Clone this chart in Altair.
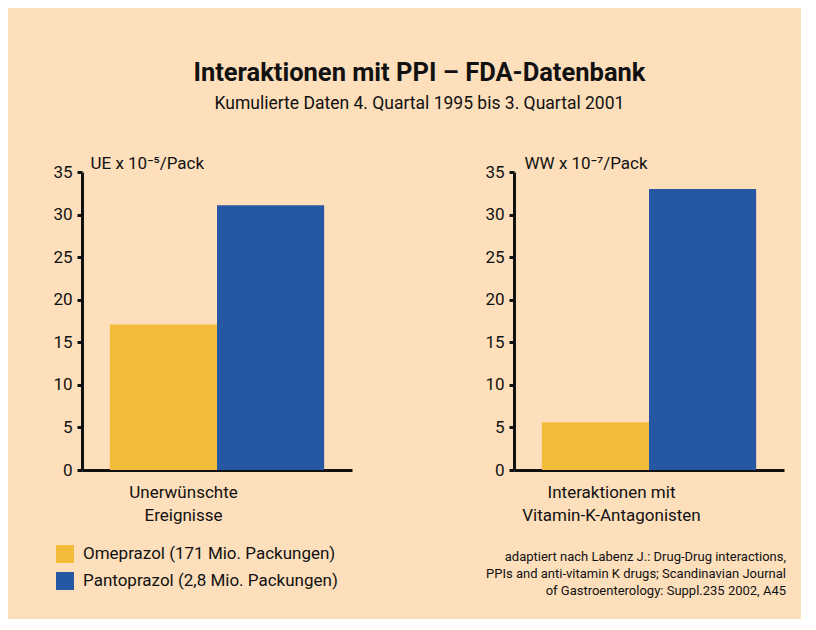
import altair as alt
import pandas as pd

# ---- data -----------------------------------------------------------------
CATEGORIES = ["Unerwünschte Ereignisse", "Interaktionen mit Vitamin-K-Antagonisten"]
SERIES = ["Omeprazol (171 Mio. Packungen)", "Pantoprazol (2,8 Mio. Packungen)"]
OMEPRAZOL = [17.1, 5.6]
PANTOPRAZOL = [31.1, 33.0]
Y_TITLES = ["UE x 10⁻⁵/Pack", "WW x 10⁻⁷/Pack"]
X_TITLES = [["Unerwünschte", "Ereignisse"], ["Interaktionen mit", "Vitamin-K-Antagonisten"]]
Y_TICKS = [0, 5, 10, 15, 20, 25, 30, 35]
TITLE = "Interaktionen mit PPI – FDA-Datenbank"
SUBTITLE = "Kumulierte Daten 4. Quartal 1995 bis 3. Quartal 2001"
FOOTNOTE = [
    "adaptiert nach Labenz J.: Drug-Drug interactions,",
    "PPIs and anti-vitamin K drugs; Scandinavian Journal",
    "of Gastroenterology: Suppl.235 2002, A45",
]

# ---- style -----------------------------------------------------------------
FONT = "Roboto, sans-serif"
PEACH = "#FEDFBB"
COLORS = ["#F2BB39", "#2657A3"]
INK = "#111111"
PANEL_W = 270
PANEL_H = 298


def panel(i):
    df = pd.DataFrame({
        "category": [CATEGORIES[i]] * 2,
        "series": SERIES,
        "value": [OMEPRAZOL[i], PANTOPRAZOL[i]],
    })
    bars = alt.Chart(df).mark_bar().encode(
        x=alt.X("series:N", sort=SERIES,
                scale=alt.Scale(paddingInner=0, paddingOuter=0.26),
                axis=alt.Axis(labels=False, ticks=False, domainWidth=3,
                              domainColor=INK, title=X_TITLES[i],
                              titleX=101 if i == 0 else 97, titleY=27,
                              titleAlign="center", titleBaseline="alphabetic",
                              titleFontSize=17, titleFontWeight="normal",
                              titleColor=INK, titleLineHeight=23)),
        y=alt.Y("value:Q", scale=alt.Scale(domain=[0, 35], nice=False),
                axis=alt.Axis(values=Y_TICKS, grid=False, domainWidth=3,
                              domainColor=INK, tickWidth=3, tickSize=5,
                              tickColor=INK, labelFontSize=17, labelPadding=5,
                              labelColor=INK, title=Y_TITLES[i], titleAngle=0,
                              titleAlign="left", titleBaseline="alphabetic",
                              titleX=8 if i == 0 else 10, titleY=-4,
                              titleFontSize=17, titleFontWeight="normal",
                              titleColor=INK)),
        color=alt.Color("series:N",
                        scale=alt.Scale(domain=SERIES, range=COLORS),
                        legend=alt.Legend(title=None, orient="none",
                                          legendX=-26, legendY=373,
                                          symbolType="square", symbolSize=324,
                                          symbolStrokeWidth=0,
                                          labelFontSize=17, labelColor=INK,
                                          labelOffset=9, rowPadding=9,
                                          labelLimit=0, padding=0)),
    ).properties(width=PANEL_W, height=PANEL_H,
                 view=alt.ViewBackground(stroke="transparent"))
    if i == 1:
        note = alt.Chart(pd.DataFrame({"t": ["\n".join(FOOTNOTE)]})).mark_text(
            align="right", baseline="alphabetic", lineBreak="\n",
            fontSize=13, lineHeight=17, color=INK, font=FONT,
        ).encode(x=alt.value(272), y=alt.value(389), text="t:N")
        return alt.layer(bars, note).properties(
            view=alt.ViewBackground(stroke="transparent"))
    return bars


chart = alt.hconcat(panel(0), panel(1), spacing=162, bounds="flush").properties(
    title=alt.Title(TITLE, subtitle=SUBTITLE, fontSize=25.5, fontWeight="bold",
                    subtitleFontSize=17.5, anchor="middle", color=INK,
                    subtitleColor=INK, offset=41, subtitlePadding=9,
                    font=FONT, subtitleFont=FONT),
    background=PEACH,
    padding={"left": 44, "top": 52, "right": 14, "bottom": 20},
).configure_view(stroke="transparent", strokeWidth=0).configure(font=FONT)

chart.save("out.html", embed_options={"renderer": "svg", "actions": False})
